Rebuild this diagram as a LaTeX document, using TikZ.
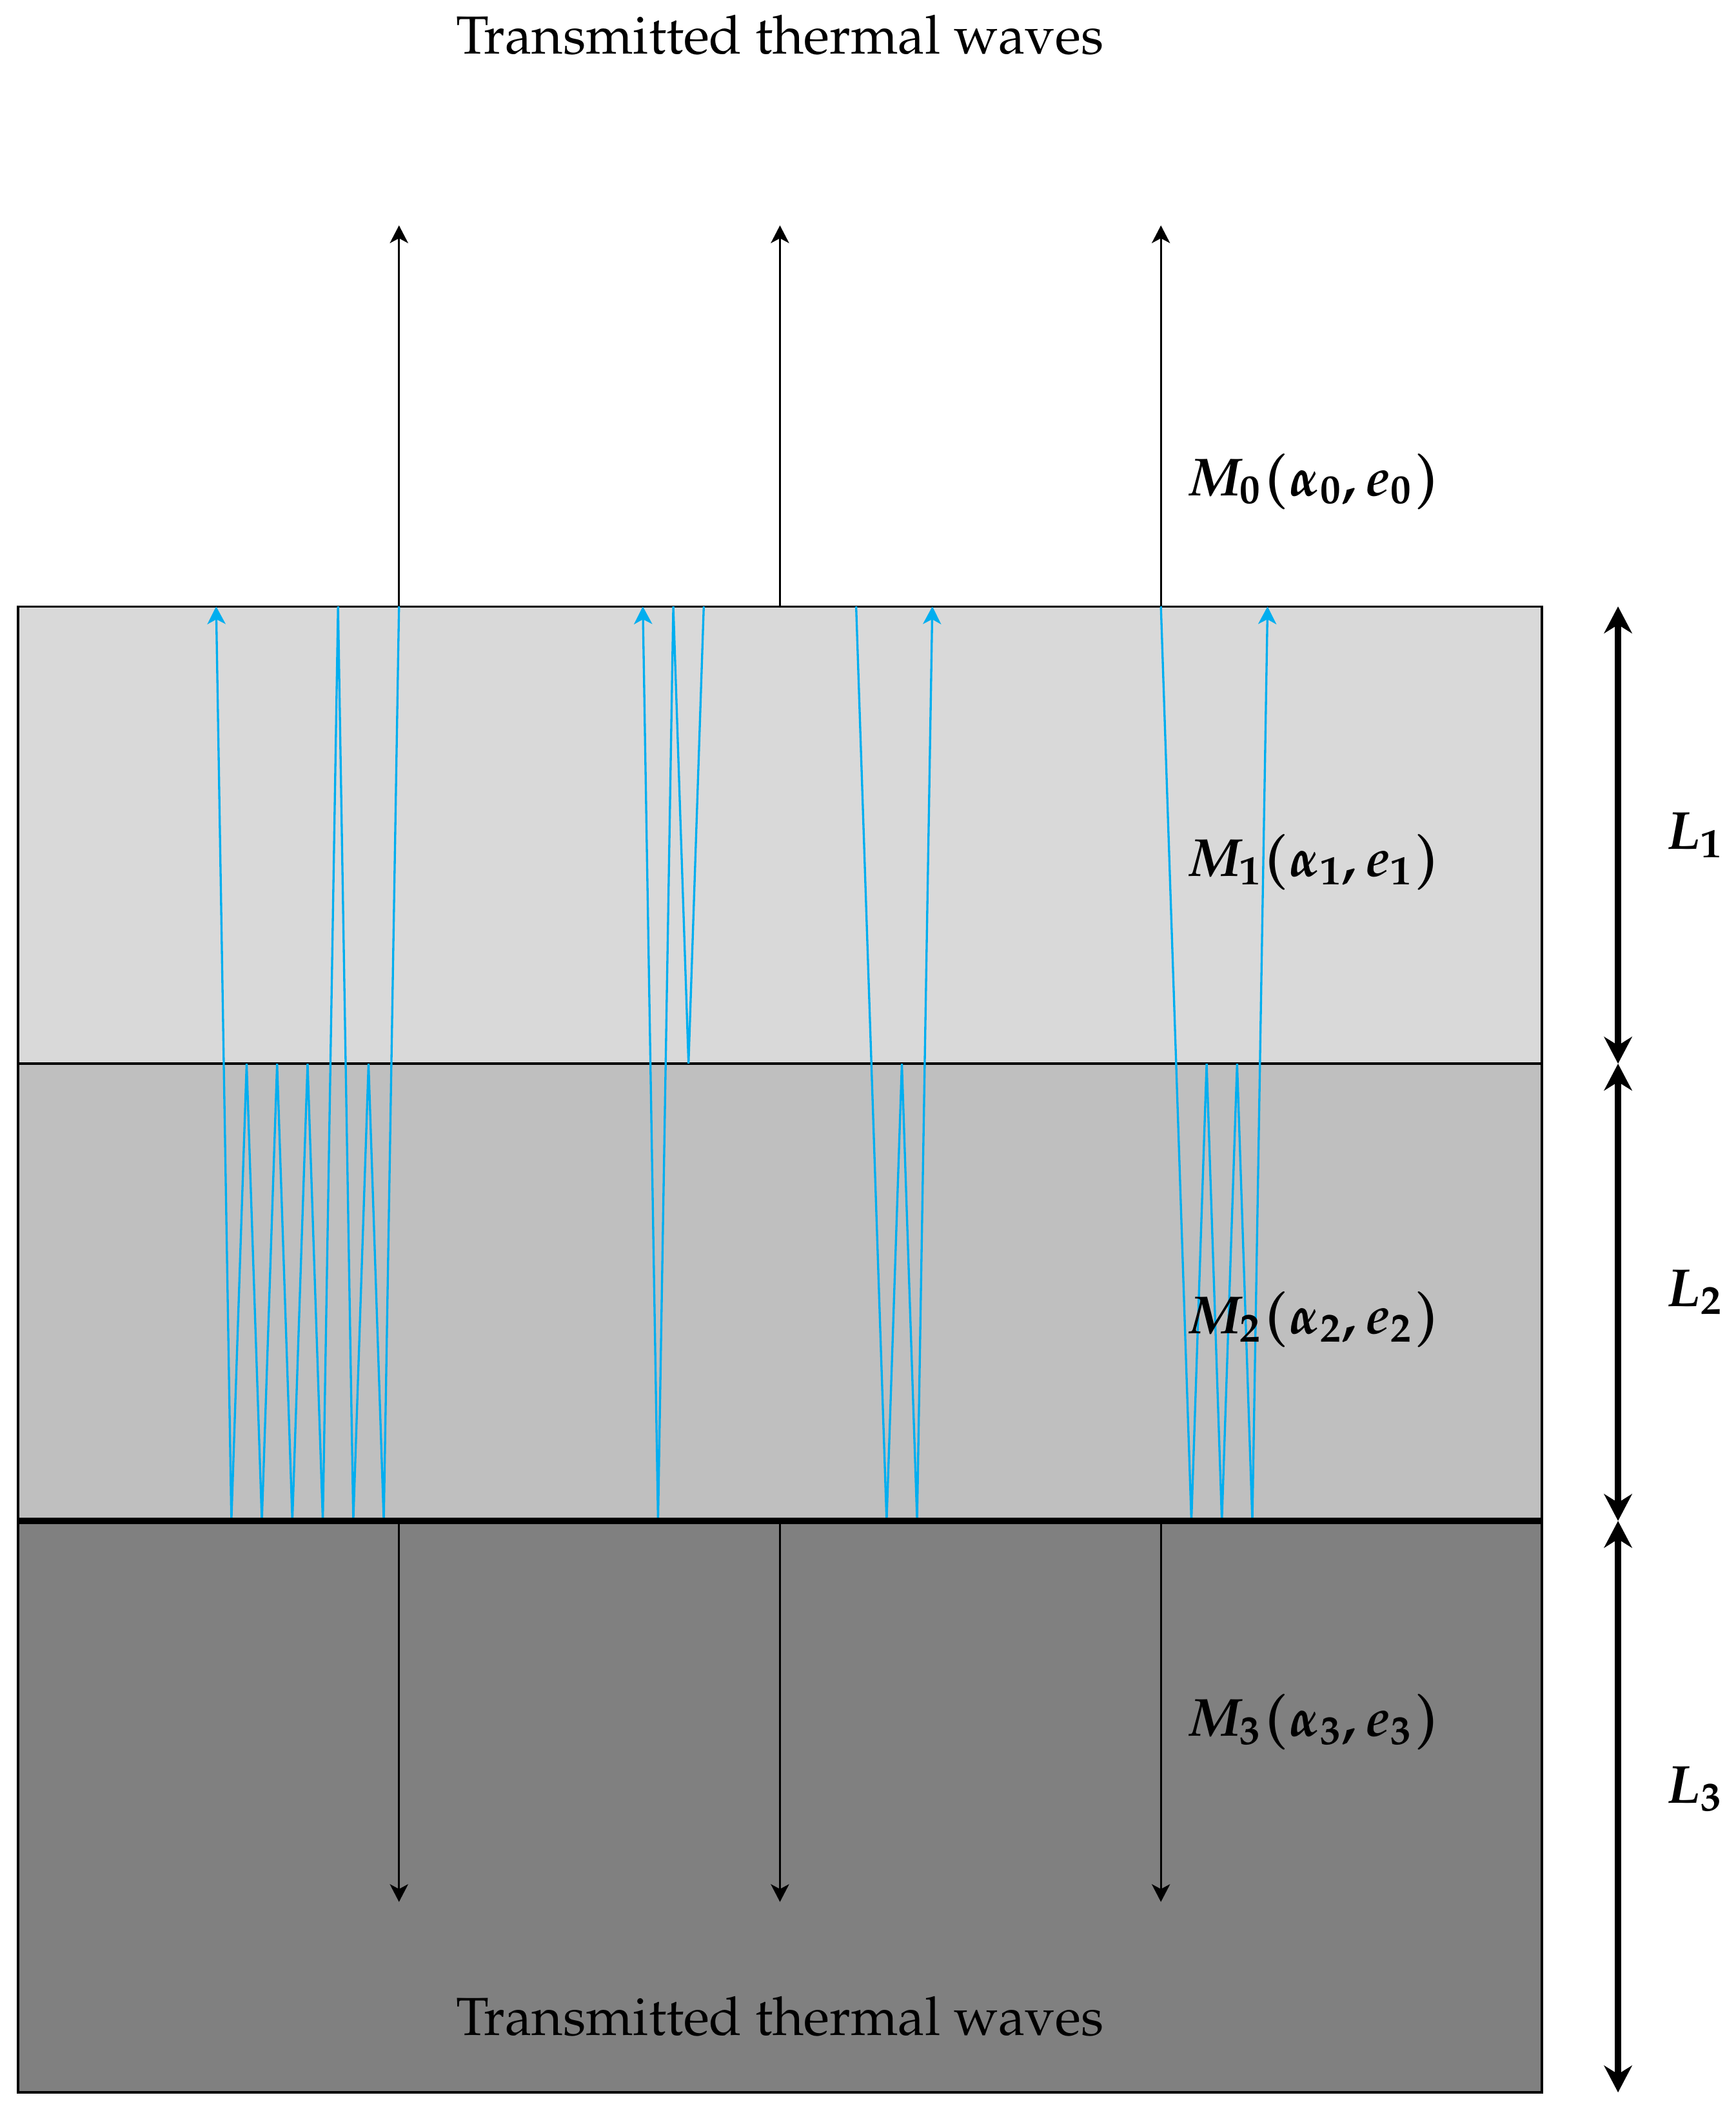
\documentclass[tikz,border=0pt]{standalone}
\usepackage[T1]{fontenc}
\usepackage{mathpazo}
\usetikzlibrary{arrows.meta}
\definecolor{raycol}{RGB}{0,174,239}
\begin{document}
\begin{tikzpicture}[
  layer/.style={draw=black, line width=0.4pt},
  wave/.style={draw=raycol, line width=0.4pt, -{Stealth[length=3.3pt,width=3.4pt,inset=0.9pt]}},
  trans/.style={draw=black, line width=0.4pt, -{Stealth[length=3.3pt,width=3.4pt,inset=0.9pt]}},
  dimarrow/.style={draw=black, line width=1.2pt, {Stealth[length=5pt,width=5.2pt,inset=1.6pt]}-{Stealth[length=5pt,width=5.2pt,inset=1.6pt]}},
  lbl/.style={font=\boldmath}
]
\useasboundingbox (-0.1185,-3.885) rectangle (11.274,9.979);

% layers
\fill[black!15] (0,3) rectangle (10,6);
\fill[black!25] (0,0) rectangle (10,3);
\fill[black!50] (0,-3.75) rectangle (10,0);
\draw[layer] (0,3) rectangle (10,6);
\draw[layer] (0,0) rectangle (10,3);
\draw[layer] (0,-3.75) rectangle (10,0);

% named points
\coordinate (t1) at (2.5,6);  \coordinate (t2) at (5,6);  \coordinate (t3) at (7.5,6);
\coordinate (u1) at (2.5,8.5);\coordinate (u2) at (5,8.5);\coordinate (u3) at (7.5,8.5);
\coordinate (b1) at (2.5,0);  \coordinate (b2) at (5,0);  \coordinate (b3) at (7.5,0);
\coordinate (d1) at (2.5,-2.5);\coordinate (d2) at (5,-2.5);\coordinate (d3) at (7.5,-2.5);

% thermal wave rays
\draw[wave] (t1) -- (2.4,0) -- (2.3,3) -- (2.2,0) -- (2.1,6) -- (2.0,0) -- (1.9,3)
  -- (1.8,0) -- (1.7,3) -- (1.6,0) -- (1.5,3) -- (1.4,0) -- (1.3,6);
\draw[wave] (4.5,6) -- (4.4,3) -- (4.3,6) -- (4.2,0) -- (4.1,6);
\draw[wave] (5.5,6) -- (5.7,0) -- (5.8,3) -- (5.9,0) -- (6.0,6);
\draw[wave] (t3) -- (7.7,0) -- (7.8,3) -- (7.9,0) -- (8.0,3) -- (8.1,0) -- (8.2,6);

% thick interface
\draw[black, line width=1.3pt] (0,0) -- (10,0);

% transmitted arrows
\draw[trans] (t1) -- (u1);
\draw[trans] (t2) -- (u2);
\draw[trans] (t3) -- (u3);
\draw[trans] (b1) -- (d1);
\draw[trans] (b2) -- (d2);
\draw[trans] (b3) -- (d3);

% thickness arrows
\coordinate (L1a) at (10.5,6); \coordinate (L1b) at (10.5,3);
\coordinate (L2b) at (10.5,0); \coordinate (L3b) at (10.5,-3.75);
\draw[dimarrow] (L1a) -- (L1b);
\draw[dimarrow] (L1b) -- (L2b);
\draw[dimarrow] (L2b) -- (L3b);

% labels
\node (ttop) at (5,9.75) {Transmitted thermal waves};
\node (tbot) at (5,-3.25) {Transmitted thermal waves};
\node[lbl] (m0) at (8.5,6.82) {$M_0(\alpha_0,e_0)$};
\node[lbl] (m1) at (8.5,4.32) {$M_1(\alpha_1,e_1)$};
\node[lbl] (m2) at (8.5,1.32) {$M_2(\alpha_2,e_2)$};
\node[lbl] (m3) at (8.5,-1.32) {$M_3(\alpha_3,e_3)$};
\node[lbl] (l1) at (11,4.5) {$L_1$};
\node[lbl] (l2) at (11,1.5) {$L_2$};
\node[lbl] (l3) at (11,-1.76) {$L_3$};
\end{tikzpicture}
\end{document}
